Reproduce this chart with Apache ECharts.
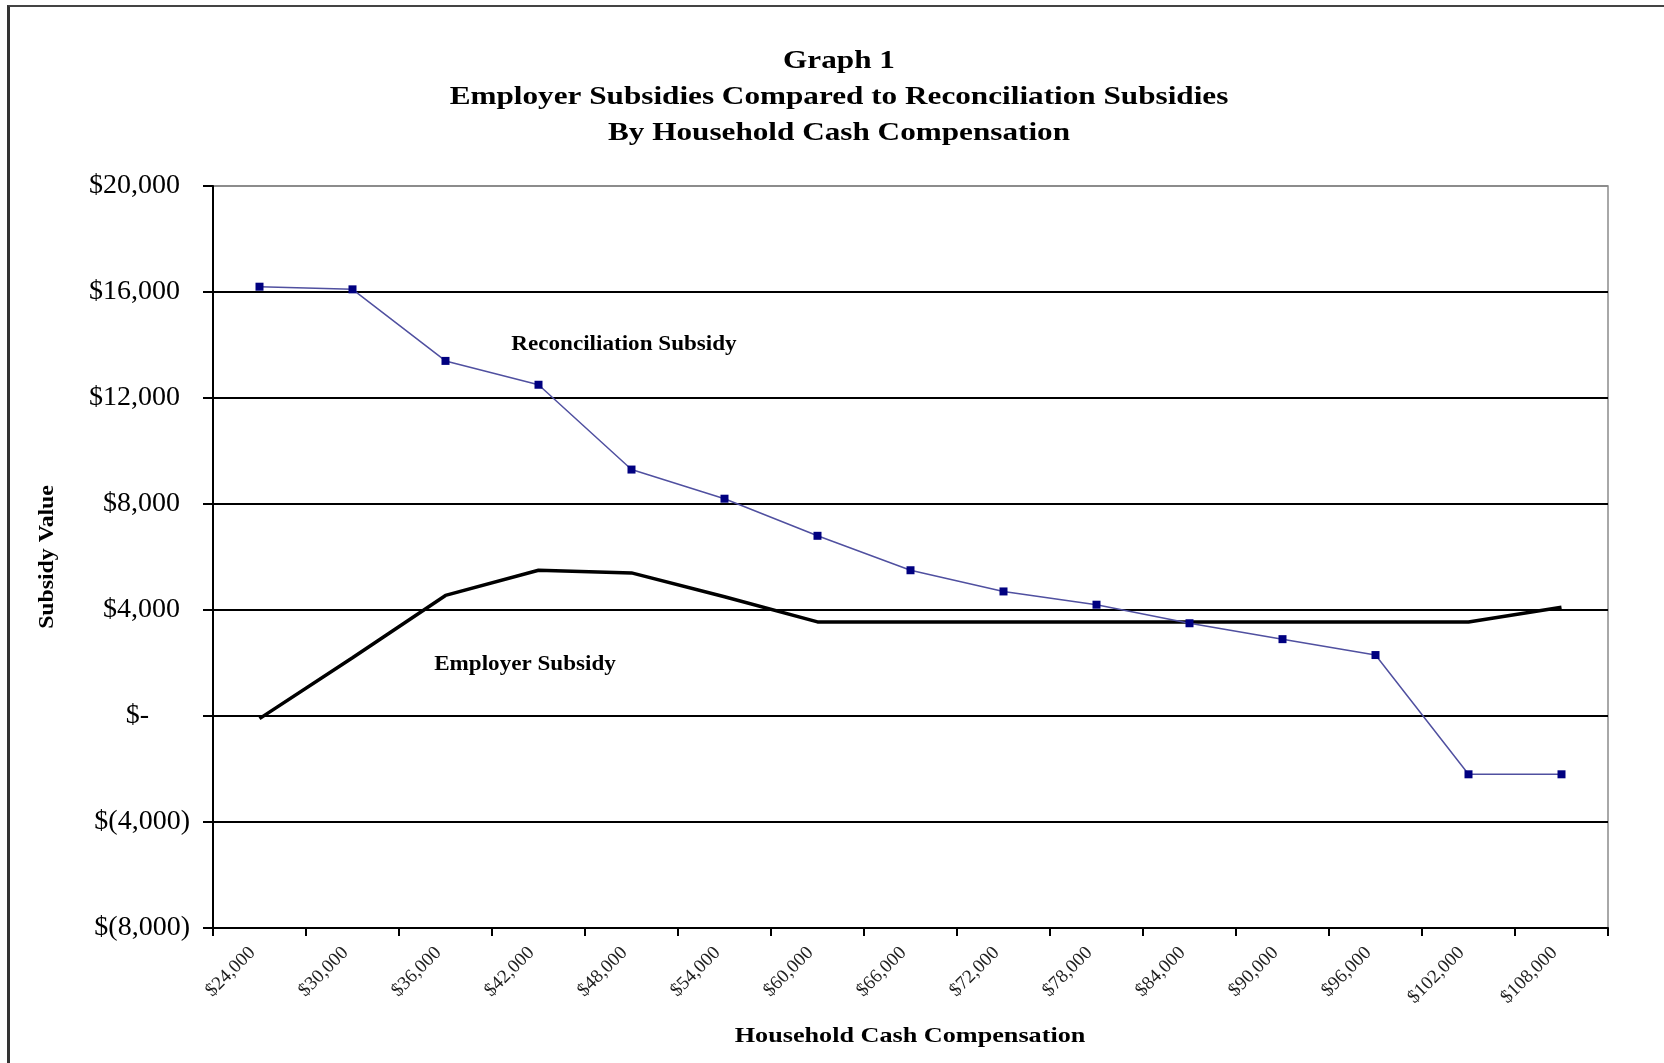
<!DOCTYPE html>
<html><head><meta charset="utf-8">
<script src="https://cdn.jsdelivr.net/npm/echarts@6/dist/echarts.min.js"></script>
<style>
html,body{margin:0;padding:0;background:#fff;overflow:hidden;}
#frame{position:absolute;left:7px;top:5px;width:1657px;height:1058px;border-left:3px solid #333;border-top:2px solid #444;}
#chart{position:absolute;left:0;top:0;width:1664px;height:1063px;}
</style></head><body>
<div id="frame"></div><div id="chart"></div>
<script>
const categories = ['$24,000','$30,000','$36,000','$42,000','$48,000','$54,000','$60,000','$66,000','$72,000','$78,000','$84,000','$90,000','$96,000','$102,000','$108,000'];
const reconciliation = [16200,16100,13400,12500,9300,8200,6800,5500,4700,4200,3500,2900,2300,-2200,-2200];
const employer = [-100,2200,4550,5500,5400,4500,3550,3550,3550,3550,3550,3550,3550,3550,4100];
const yTickLabels = ['$(8,000)','$(4,000)','$-','$4,000','$8,000','$12,000','$16,000','$20,000'];
const titleLines = ['Graph 1','Employer Subsidies Compared to Reconciliation Subsidies','By Household Cash Compensation'];
const xAxisTitle = 'Household Cash Compensation';
const yAxisTitle = 'Subsidy Value';
const seriesNames = ['Reconciliation Subsidy','Employer Subsidy'];

const FONT = 'Liberation Serif';
const chart = echarts.init(document.getElementById('chart'));

function txt(text, x, y, size, sx, rot) {
  return { type: 'text', x: x, y: y, scaleX: sx, rotation: rot || 0,
    style: { text: text, textAlign: 'center', textVerticalAlign: 'middle',
      font: 'bold ' + size + 'px "Liberation Serif"', fill: '#000' } };
}

chart.setOption({
  backgroundColor: 'transparent',
  animation: false,
  grid: { left: 213, right: 56, top: 186, bottom: 135, show: true, borderColor: '#8c8c8c', borderWidth: 1.5, containLabel: false },
  xAxis: {
    type: 'category', data: categories, boundaryGap: true,
    axisLine: { onZero: false, lineStyle: { color: '#000', width: 2 } },
    axisTick: { show: true, length: 8, lineStyle: { color: '#000', width: 2 } },
    axisLabel: { rotate: 45, interval: 0, margin: 15, padding: [0, 10, 0, 0],
      fontFamily: FONT, fontSize: 19, color: '#222' },
    splitLine: { show: false }
  },
  yAxis: {
    type: 'value', min: -8000, max: 20000, interval: 4000,
    axisLine: { show: true, onZero: false, lineStyle: { color: '#000', width: 2 } },
    axisTick: { show: true, length: 10, lineStyle: { color: '#000', width: 2 } },
    axisLabel: { margin: 23, fontFamily: FONT, fontSize: 28, color: '#000',
      formatter: (v, i) => {
        const s = yTickLabels[i];
        if (s.indexOf('(') >= 0) return '{n|' + s + '}';
        if (s === '$-') return '{z|' + s + '}';
        return '{p|' + s + '}';
      },
      rich: {
        n: { fontFamily: FONT, fontSize: 28, color: '#000' },
        p: { fontFamily: FONT, fontSize: 28, color: '#000', padding: [0, 10, 0, 0] },
        z: { fontFamily: FONT, fontSize: 28, color: '#000', padding: [0, 41, 0, 0] }
      }
    },
    splitLine: { show: true, lineStyle: { color: ['#000','#000','#000','#000','#000','#000','#000','#8c8c8c'], width: 1.8 } }
  },
  graphic: [
    txt(titleLines[0], 839, 61.5, 26, 1.2),
    txt(titleLines[1], 839, 97.5, 26, 1.2),
    txt(titleLines[2], 839, 133.5, 26, 1.2),
    txt(seriesNames[0], 624, 345, 21, 1.1),
    txt(seriesNames[1], 525, 665, 21, 1.1),
    txt(xAxisTitle, 910, 1036, 22, 1.19),
    txt(yAxisTitle, 47, 557, 22, 1.08, Math.PI / 2)
  ],
  series: [
    { name: seriesNames[1], type: 'line', data: employer, showSymbol: false, symbol: 'none',
      lineStyle: { color: '#000', width: 3.5 }, z: 3 },
    { name: seriesNames[0], type: 'line', data: reconciliation, symbol: 'rect', symbolSize: 8,
      itemStyle: { color: '#000080' }, lineStyle: { color: '#5050a0', width: 1.5 }, z: 4 }
  ]
});
</script></body></html>
